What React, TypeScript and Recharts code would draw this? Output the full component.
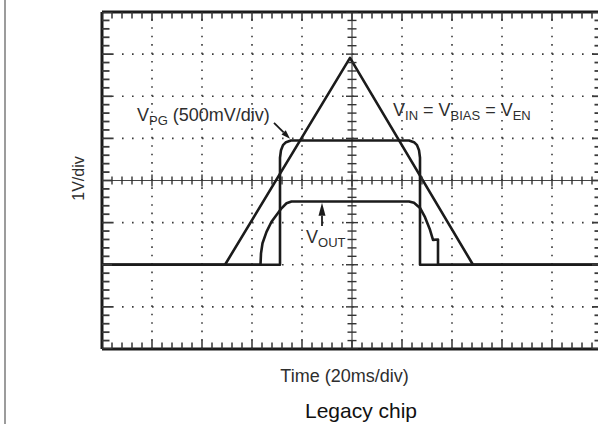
import React from 'react';
import {
  ComposedChart,
  Line,
  Scatter,
  XAxis,
  YAxis,
  ReferenceLine,
  ReferenceDot,
} from 'recharts';

// scope screen in divisions: 10 across (20ms/div), 8 high (1V/div)
const vinTime = [0, 2.46, 4.96, 7.42, 10];
const vinLevel = [2, 2, 6.91, 2, 2];

const vpgTime = [0, 3.56, 3.56, 3.58, 3.62, 3.68, 3.78, 6.14, 6.24, 6.3, 6.34, 6.36, 6.36, 10];
const vpgLevel = [2, 2, 4.54, 4.72, 4.84, 4.91, 4.95, 4.95, 4.91, 4.84, 4.72, 4.54, 2, 2];

const voutTime = [0, 3.17, 3.18, 3.21, 3.29, 3.39, 3.49, 3.59, 3.69, 3.79, 6.14, 6.24, 6.36, 6.46, 6.56, 6.62, 6.72, 6.72, 10];
const voutLevel = [2, 2, 2.27, 2.51, 2.78, 3.02, 3.18, 3.34, 3.46, 3.5, 3.5, 3.47, 3.35, 3.13, 2.83, 2.59, 2.6, 2, 2];

// graticule
const gridX = [1, 2, 3, 4, 6, 7, 8, 9];
const gridY = [1, 2, 3, 5, 6, 7];
const centerX = 5;
const centerY = 4;
const minorX = Array.from({ length: 51 }, (_, i) => i / 5);
const minorY = Array.from({ length: 41 }, (_, i) => i / 5);

const INK = '#1b1b1b';
const TEXT = '#2e2e2e';
const FONT = '"Liberation Sans", Arial, Helvetica, sans-serif';

const zip = (t: number[], v: number[]) => t.map((x, i) => ({ x, y: v[i] }));

const vin = zip(vinTime, vinLevel);
const vpg = zip(vpgTime, vpgLevel);
const vout = zip(voutTime, voutLevel);
const hCenterTicks = minorX.map((x) => ({ x, y: centerY }));
const vCenterTicks = minorY.map((y) => ({ x: centerX, y }));
const topTicks = minorX.map((x) => ({ x, y: 8 }));
const bottomTicks = minorX.map((x) => ({ x, y: 0 }));
const leftTicks = minorY.map((y) => ({ x: 0, y }));
const rightTicks = minorY.map((y) => ({ x: 10, y }));

type Part = { t: string; sub?: boolean };

const SignalLabel = ({ cx, cy, parts }: { cx: number; cy: number; parts: Part[] }) => {
  let shifted = false;
  return (
    <text x={cx} y={cy} fill={TEXT} fontFamily={FONT} fontSize={18} style={{ whiteSpace: 'pre' }}>
      {parts.map((p, i) => {
        let dy = 0;
        if (p.sub && !shifted) { dy = 4; shifted = true; }
        if (!p.sub && shifted) { dy = -4; shifted = false; }
        return (
          <tspan key={i} dy={dy} fontSize={p.sub ? 13 : 18}>{p.t}</tspan>
        );
      })}
    </text>
  );
};

const arrowShape = (headLen: number, headW: number) => (p: any) => {
  const x1 = Number(p.x1), y1 = Number(p.y1), x2 = Number(p.x2), y2 = Number(p.y2);
  const dx = x2 - x1, dy = y2 - y1;
  const len = Math.hypot(dx, dy) || 1;
  const ux = dx / len, uy = dy / len;
  const bx = x2 - ux * headLen, by = y2 - uy * headLen;
  const px = (-uy * headW) / 2, py = (ux * headW) / 2;
  return (
    <g>
      <line x1={x1} y1={y1} x2={bx} y2={by} stroke={INK} strokeWidth={1.8} />
      <polygon points={`${x2},${y2} ${bx + px},${by + py} ${bx - px},${by - py}`} fill={INK} />
    </g>
  );
};

const isMajor = (v: number) => Math.abs(v - Math.round(v)) < 0.01;

// crossing ticks on the centre lines
const hTick = (p: any) => {
  const l = isMajor(p.payload.x) ? 6 : 4;
  return <line x1={p.cx} x2={p.cx} y1={p.cy - l} y2={p.cy + l} stroke="#333" strokeWidth={1.4} />;
};
const vTick = (p: any) => {
  const l = isMajor(p.payload.y) ? 6 : 4.5;
  return <line x1={p.cx - l} x2={p.cx + l} y1={p.cy} y2={p.cy} stroke="#333" strokeWidth={1.4} />;
};

// inward ticks on the frame, dir: 1 = down/right, -1 = up/left
const edgeTickV = (dir: number) => (p: any) => {
  const l = isMajor(p.payload.x) ? 9 : 6.5;
  return <line x1={p.cx} x2={p.cx} y1={p.cy} y2={p.cy + dir * l} stroke="#333" strokeWidth={1.5} />;
};
const edgeTickH = (dir: number) => (p: any) => {
  const l = isMajor(p.payload.y) ? 10 : 7.5;
  return <line x1={p.cx} x2={p.cx + dir * l} y1={p.cy} y2={p.cy} stroke="#3a3a3a" strokeWidth={1.8} />;
};

const axisLineStyle = { stroke: INK, strokeWidth: 3 };

export default function App() {
  return (
    <div style={{ position: 'absolute', left: 0, top: 0, width: 598, height: 424, overflow: 'hidden', background: '#fff' }}>
      <div style={{ position: 'absolute', left: 4, top: 0, width: 2, height: 424, background: '#9c9c9c' }} />
      <ComposedChart width={610} height={424} margin={{ top: 12, right: 8, bottom: 75, left: 102 }}>
        <XAxis dataKey="x" type="number" domain={[0, 10]} ticks={minorX} interval={0} mirror tick={false}
          tickLine={false} axisLine={axisLineStyle} allowDataOverflow />
        <XAxis xAxisId="top" orientation="top" dataKey="x" type="number" domain={[0, 10]} ticks={minorX} interval={0}
          mirror tick={false} tickLine={false} axisLine={axisLineStyle} allowDataOverflow />
        <YAxis dataKey="y" type="number" domain={[0, 8]} ticks={minorY} interval={0} mirror tick={false}
          tickLine={false} axisLine={axisLineStyle} allowDataOverflow />
        <YAxis yAxisId="right" orientation="right" dataKey="y" type="number" domain={[0, 8]} ticks={minorY} interval={0}
          mirror tick={false} tickLine={false} axisLine={axisLineStyle} allowDataOverflow />

        {gridX.map((x) => (
          <ReferenceLine key={`gx${x}`} x={x} stroke="#3a3a3a" strokeWidth={1.6} strokeDasharray="1.6 6.825" />
        ))}
        {gridY.map((y) => (
          <ReferenceLine key={`gy${y}`} y={y} stroke="#3a3a3a" strokeWidth={1.6} strokeDasharray="1.6 8.4" />
        ))}
        <ReferenceLine x={centerX} stroke="#444" strokeWidth={1.2} />
        <ReferenceLine y={centerY} stroke="#444" strokeWidth={1.2} />
        <Scatter data={hCenterTicks} shape={hTick} isAnimationActive={false} />
        <Scatter data={vCenterTicks} shape={vTick} isAnimationActive={false} />
        <Scatter data={topTicks} shape={edgeTickV(1)} isAnimationActive={false} />
        <Scatter data={bottomTicks} shape={edgeTickV(-1)} isAnimationActive={false} />
        <Scatter data={leftTicks} shape={edgeTickH(1)} isAnimationActive={false} />
        <Scatter data={rightTicks} shape={edgeTickH(-1)} isAnimationActive={false} />

        <Line data={vin} dataKey="y" type="linear" stroke={INK} strokeWidth={2.6} dot={false}
          strokeLinejoin="round" isAnimationActive={false} />
        <Line data={vpg} dataKey="y" type="linear" stroke={INK} strokeWidth={2.6} dot={false}
          strokeLinejoin="round" isAnimationActive={false} />
        <Line data={vout} dataKey="y" type="linear" stroke={INK} strokeWidth={2.6} dot={false}
          strokeLinejoin="round" isAnimationActive={false} />

        <ReferenceLine segment={[{ x: 3.44, y: 5.37 }, { x: 3.76, y: 4.99 }]} shape={arrowShape(9, 6)} />
        <ReferenceLine segment={[{ x: 4.4, y: 2.92 }, { x: 4.4, y: 3.47 }]} shape={arrowShape(13, 7)} />

        <ReferenceDot x={0.7} y={5.41} r={0}
          shape={(p: any) => <SignalLabel cx={p.cx} cy={p.cy} parts={[{ t: 'V' }, { t: 'PG', sub: true }, { t: ' (500mV/div)' }]} />} />
        <ReferenceDot x={5.82} y={5.53} r={0}
          shape={(p: any) => (
            <SignalLabel cx={p.cx} cy={p.cy}
              parts={[{ t: 'V' }, { t: 'IN', sub: true }, { t: ' = V' }, { t: 'BIAS', sub: true }, { t: ' = V' }, { t: 'EN', sub: true }]} />
          )} />
        <ReferenceDot x={4.08} y={2.52} r={0}
          shape={(p: any) => <SignalLabel cx={p.cx} cy={p.cy} parts={[{ t: 'V' }, { t: 'OUT', sub: true }]} />} />
      </ComposedChart>
      <svg width={598} height={424} style={{ position: 'absolute', left: 0, top: 0, pointerEvents: 'none' }}>
        <text x={84} y={178.5} transform="rotate(-90, 84, 178.5)" textAnchor="middle" fill={TEXT}
          fontFamily={FONT} fontSize={16}>1V/div</text>
        <text x={344.5} y={382} textAnchor="middle" fill={TEXT} fontFamily={FONT} fontSize={18}>Time (20ms/div)</text>
        <text x={361} y={418} textAnchor="middle" fill="#111" fontFamily={FONT} fontSize={21}>Legacy chip</text>
      </svg>
    </div>
  );
}
